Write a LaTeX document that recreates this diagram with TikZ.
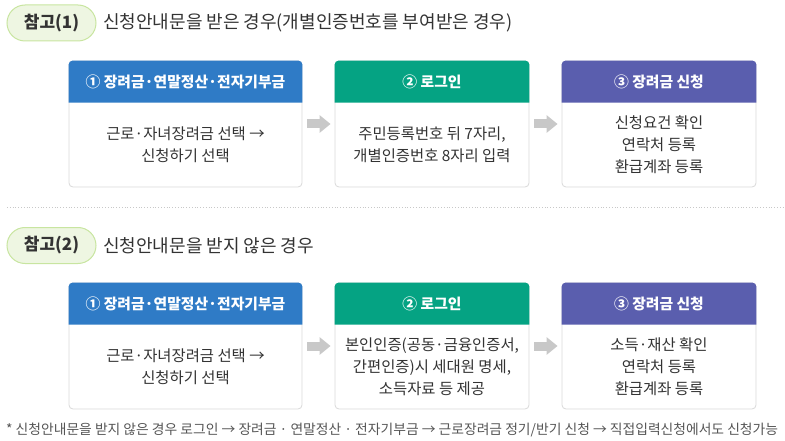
\documentclass[tikz,border=0pt]{standalone}
\usepackage{fontspec}
\setmainfont{Noto Sans CJK KR}
\usetikzlibrary{arrows.meta,positioning}
\definecolor{hblue}{HTML}{2F7BC6}
\definecolor{hgreen}{HTML}{05A383}
\definecolor{hpurple}{HTML}{5A5EAE}
\definecolor{pillfill}{HTML}{EEF6E2}
\definecolor{pillline}{HTML}{C8E5A0}
\definecolor{boxline}{HTML}{D9D9D9}
\definecolor{txt}{HTML}{333333}
\definecolor{foot}{HTML}{555555}
\definecolor{arrgray}{HTML}{C8C8C8}
\definecolor{sepgray}{HTML}{C8C8C8}
\begin{document}
\begin{tikzpicture}[x=1pt,y=-1pt,
  pill/.style={draw=pillline, fill=pillfill, line width=1pt, rounded corners=18pt,
    minimum width=89pt, minimum height=36pt, inner sep=0pt,
    font=\fontsize{17}{19}\selectfont\bfseries, text=txt},
  title/.style={anchor=west, inner sep=0pt, font=\fontsize{18}{20}\selectfont, text=txt},
  bodybox/.style={draw=boxline, fill=white, line width=0.8pt, rounded corners=4pt,
    minimum width=233pt, minimum height=126pt, inner sep=0pt},
  bodybox2/.style={bodybox, minimum width=194pt},
  htext/.style={inner sep=0pt, text=white, font=\fontsize{14.8}{16}\selectfont\bfseries},
  btext/.style={inner sep=0pt, align=center, text=txt, font=\fontsize{15.4}{22}\selectfont},
  flowarrow/.style={arrgray, line width=9pt, -{Triangle[width=17pt,length=11pt]}},
  foottext/.style={anchor=west, inner sep=0pt, text=foot, font=\fontsize{13.8}{15}\selectfont}
]
\useasboundingbox (0,0) rectangle (785,441);

% ---------- Section 1 ----------
\node[pill] (p1) at (51.5,23) {참고(1)};
\node[title] (t1) at (103,23) {신청안내문을 받은 경우(개별인증번호를 부여받은 경우)};

\node[bodybox]  (a1) at (185.5,124) {};
\node[bodybox2] (a2) at (432,124) {};
\node[bodybox2] (a3) at (659,124) {};

\foreach \b/\c in {a1/hblue,a2/hgreen,a3/hpurple}{
  \fill[\c] ([yshift=-42pt]\b.north west) [rounded corners=4pt] -- (\b.north west) -- (\b.north east) [sharp corners] -- ([yshift=-42pt]\b.north east) -- cycle;
}
\node[htext] (ah1) at ([yshift=-21pt]a1.north) {① 장려금·연말정산·전자기부금};
\node[htext] (ah2) at ([yshift=-21pt]a2.north) {② 로그인};
\node[htext] (ah3) at ([yshift=-21pt]a3.north) {③ 장려금 신청};

\node[btext] (ab1) at ([yshift=-21pt]a1.center) {근로·자녀장려금 선택 →\\신청하기 선택};
\node[btext] (ab2) at ([yshift=-21pt]a2.center) {주민등록번호 뒤 7자리,\\개별인증번호 8자리 입력};
\node[btext] (ab3) at ([yshift=-21pt]a3.center) {신청요건 확인\\연락처 등록\\환급계좌 등록};

\draw[flowarrow] ([xshift=5pt]a1.east) -- ([xshift=-4pt]a2.west);
\draw[flowarrow] ([xshift=5pt]a2.east) -- ([xshift=-4pt]a3.west);

% ---------- separator ----------
\coordinate (s1) at (7,207);
\coordinate (s2) at (785,207);
\draw[sepgray, dotted, line width=0.8pt] (s1) -- (s2);

% ---------- Section 2 ----------
\node[pill] (p2) at (51.5,245.5) {참고(2)};
\node[title] (t2) at (103,245.5) {신청안내문을 받지 않은 경우};

\node[bodybox]  (c1) at (185.5,346) {};
\node[bodybox2] (c2) at (432,346) {};
\node[bodybox2] (c3) at (659,346) {};

\foreach \b/\c in {c1/hblue,c2/hgreen,c3/hpurple}{
  \fill[\c] ([yshift=-42pt]\b.north west) [rounded corners=4pt] -- (\b.north west) -- (\b.north east) [sharp corners] -- ([yshift=-42pt]\b.north east) -- cycle;
}
\node[htext] (ch1) at ([yshift=-21pt]c1.north) {① 장려금·연말정산·전자기부금};
\node[htext] (ch2) at ([yshift=-21pt]c2.north) {② 로그인};
\node[htext] (ch3) at ([yshift=-21pt]c3.north) {③ 장려금 신청};

\node[btext] (cb1) at ([yshift=-21pt]c1.center) {근로·자녀장려금 선택 →\\신청하기 선택};
\node[btext] (cb2) at ([yshift=-21pt]c2.center) {본인인증(공동·금융인증서,\\간편인증)시 세대원 명세,\\소득자료 등 제공};
\node[btext] (cb3) at ([yshift=-21pt]c3.center) {소득·재산 확인\\연락처 등록\\환급계좌 등록};

\draw[flowarrow] ([xshift=5pt]c1.east) -- ([xshift=-4pt]c2.west);
\draw[flowarrow] ([xshift=5pt]c2.east) -- ([xshift=-4pt]c3.west);

% ---------- footnote ----------
\node[foottext] (fn) at (6,430) {* 신청안내문을 받지 않은 경우 로그인 → 장려금 · 연말정산 · 전자기부금 → 근로장려금 정기/반기 신청 → 직접입력신청에서도 신청가능};
\end{tikzpicture}
\end{document}
